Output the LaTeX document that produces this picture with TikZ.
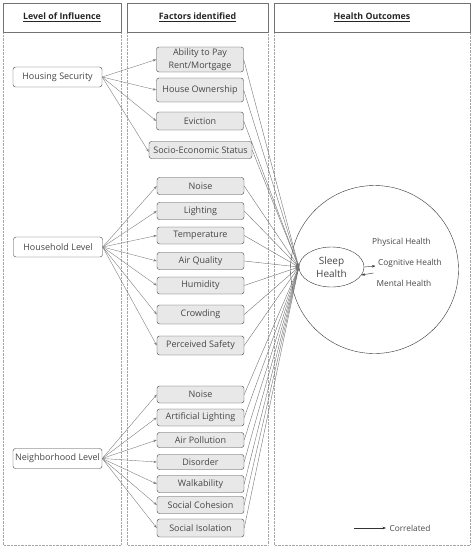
\documentclass[tikz,border=0pt]{standalone}
\usepackage{fontspec}
\setmainfont{Open Sans}
\usetikzlibrary{arrows.meta,shapes.geometric}
\definecolor{inkgray}{RGB}{70,70,70}
\definecolor{boxfill}{RGB}{232,232,232}
\begin{document}
\begin{tikzpicture}[x=1pt,y=-1pt,
    every node/.style={text=inkgray,font=\fontsize{9}{10.5}\selectfont},
    header/.style={draw=black!55,line width=0.6pt},
    colbody/.style={draw=black!35,densely dotted},
    title/.style={text=black!85,font=\bfseries\fontsize{8.8}{10}\selectfont},
    level/.style={draw=black!75,rounded corners=2.5pt,fill=white,
      minimum width=89pt,minimum height=20pt,inner sep=1pt},
    factor/.style={draw=black!75,rounded corners=2.5pt,fill=boxfill,
      minimum width=87pt,minimum height=17pt,inner sep=1pt,align=center},
    link/.style={draw=black!50,line width=0.4pt,
      -{Stealth[length=3.5pt,width=2.5pt]}}]
  \useasboundingbox (0,0) rectangle (474,550);
  % columns
  \draw[colbody] (3,32) rectangle (121,545);
  \draw[colbody] (127,32) rectangle (268,545);
  \draw[colbody] (274,32) rectangle (470,545);
  \draw[header] (3,3) rectangle (121,32);
  \draw[header] (127,3) rectangle (268,32);
  \draw[header] (274,3) rectangle (470,32);
  \node[title] (t1) at (62,17.5) {\underline{Level of Influence}};
  \node[title] (t2) at (197.5,17.5) {\underline{Factors identified}};
  \node[title] (t3) at (372,17.5) {\underline{Health Outcomes}};
  % levels
  \node[level] (hs) at (57.5,77) {Housing Security};
  \node[level] (hh) at (58,247) {Household Level};
  \node[level] (nb) at (57.5,458.5) {Neighborhood Level};
  % factors
  \node[factor,minimum height=25pt,font=\fontsize{9}{13}\selectfont] (pay) at (200,59.5) {Ability to Pay\\Rent/Mortgage};
  \node[factor,minimum height=24pt] (own) at (200,90) {House Ownership};
  \node[factor,minimum height=18pt] (evi) at (200,121) {Eviction};
  \node[factor,minimum width=103pt] (ses) at (200.5,150) {Socio-Economic Status};
  \node[factor] (hnoi) at (200.5,186) {Noise};
  \node[factor] (hlig) at (200.5,211) {Lighting};
  \node[factor] (htem) at (200.5,235.5) {Temperature};
  \node[factor] (hair) at (200.5,261) {Air Quality};
  \node[factor] (hhum) at (200.5,285.5) {Humidity};
  \node[factor,minimum height=19pt] (hcro) at (200.5,314.5) {Crowding};
  \node[factor,minimum height=19pt] (hsaf) at (200.5,345.5) {Perceived Safety};
  \node[factor] (nnoi) at (200.5,394.5) {Noise};
  \node[factor] (nlig) at (200.5,417.5) {Artificial Lighting};
  \node[factor,minimum height=15pt] (npol) at (200.5,440) {Air Pollution};
  \node[factor,minimum height=15pt] (ndis) at (200.5,462) {Disorder};
  \node[factor] (nwal) at (200.5,484) {Walkability};
  \node[factor] (ncoh) at (200.5,505) {Social Cohesion};
  \node[factor,minimum height=18pt] (niso) at (200.5,528) {Social Isolation};
  % outcomes
  \node[circle,draw=black!80,minimum size=168pt,inner sep=0pt] (outc) at (374.5,269.5) {};
  \node[ellipse,draw=black!80,minimum width=65pt,minimum height=40pt,
    inner sep=0pt,align=center,font=\fontsize{10}{12.5}\selectfont] (sleep) at (331.5,267) {Sleep\\Health};
  \node[font=\fontsize{8.3}{10}\selectfont] (phys) at (401.5,242) {Physical Health};
  \node[font=\fontsize{8.3}{10}\selectfont] (cog) at (410,263.5) {Cognitive Health};
  \node[font=\fontsize{8.3}{10}\selectfont] (ment) at (404,283.5) {Mental Health};
  \coordinate (toc) at (375.5,266);
  \coordinate (fromc) at (373.5,273);
  % legend
  \coordinate (lg) at (354,528);
  \node[font=\fontsize{8.3}{10}\selectfont] (corr) at (410,528) {Correlated};
  \begin{scope}[link]
    \draw (hs.east) -- (pay.west);
    \draw (hs.east) -- (own.west);
    \draw (hs.east) -- (evi.west);
    \draw (hs.east) -- ([yshift=-2pt]ses.west);
    \draw (hh.east) -- (hnoi.west);
    \draw (hh.east) -- (hlig.west);
    \draw (hh.east) -- (htem.west);
    \draw (hh.east) -- (hair.west);
    \draw (hh.east) -- (hhum.west);
    \draw (hh.east) -- (hcro.west);
    \draw (hh.east) -- (hsaf.west);
    \draw (nb.east) -- (nnoi.west);
    \draw (nb.east) -- (nlig.west);
    \draw (nb.east) -- (npol.west);
    \draw (nb.east) -- (ndis.west);
    \draw (nb.east) -- (nwal.west);
    \draw (nb.east) -- (ncoh.west);
    \draw (nb.east) -- (niso.west);
  \end{scope}
  \begin{scope}[link,draw=black!55]
    \draw (pay.east) -- (sleep.west);
    \draw (own.east) -- (sleep.west);
    \draw (evi.east) -- (sleep.west);
    \draw (ses.east) -- (sleep.west);
    \draw (hnoi.east) -- (sleep.west);
    \draw (hlig.east) -- (sleep.west);
    \draw (htem.east) -- (sleep.west);
    \draw (hair.east) -- (sleep.west);
    \draw (hhum.east) -- (sleep.west);
    \draw (hcro.east) -- (sleep.west);
    \draw (hsaf.east) -- (sleep.west);
    \draw (nnoi.east) -- (sleep.west);
    \draw (nlig.east) -- (sleep.west);
    \draw (npol.east) -- (sleep.west);
    \draw (ndis.east) -- (sleep.west);
    \draw (nwal.east) -- (sleep.west);
    \draw (ncoh.east) -- (sleep.west);
    \draw (niso.east) -- (sleep.west);
  \end{scope}
  \draw[link,draw=black!80] (sleep.east) -- (toc);
  \draw[link,draw=black!80] (fromc) -- (sleep.-15);
  \draw[link,draw=black!80] (lg) -- (corr.west);
\end{tikzpicture}
\end{document}
